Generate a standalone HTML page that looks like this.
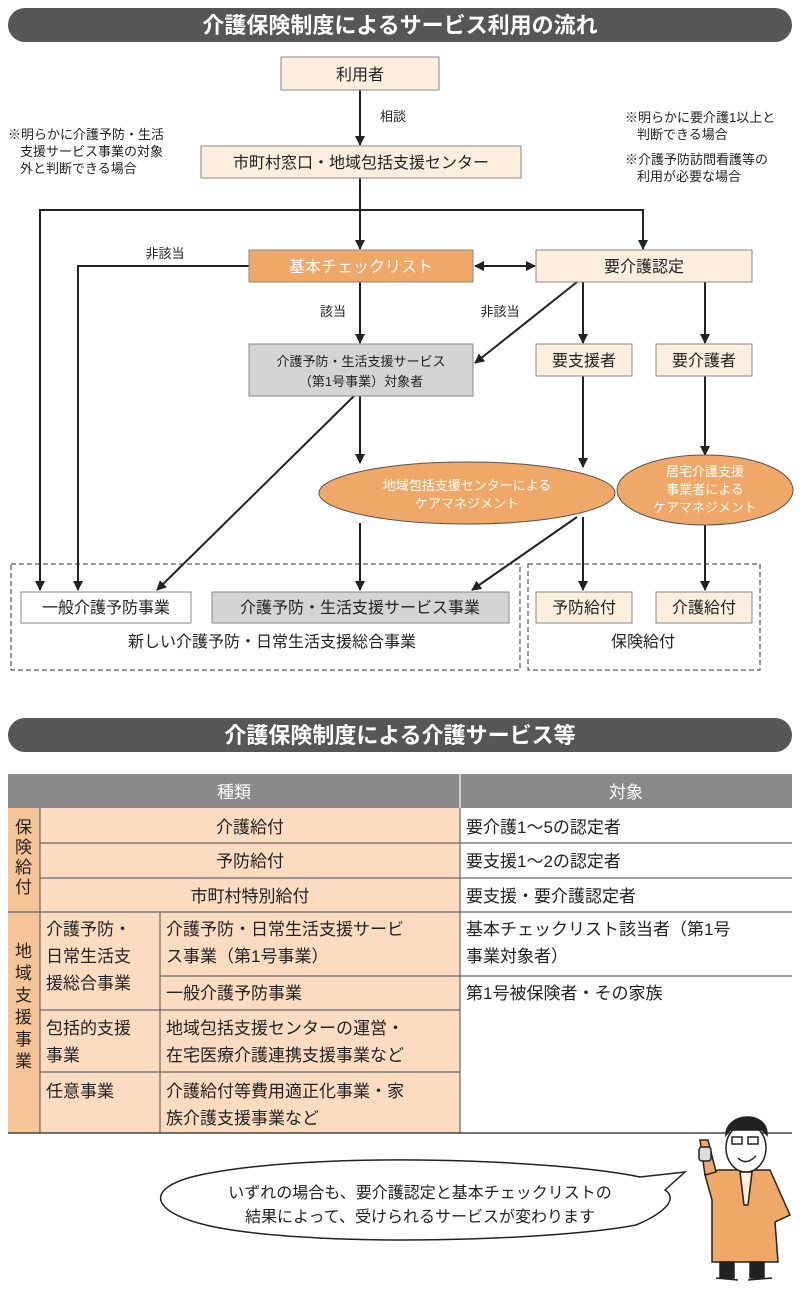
<!DOCTYPE html>
<html><head><meta charset="utf-8"><style>
html,body{margin:0;padding:0;background:#fff}
svg{display:block}
text{font-family:"Liberation Sans","Noto Sans CJK JP",sans-serif;fill:#222}
</style></head><body>
<svg width="800" height="1290" viewBox="0 0 800 1290" xmlns="http://www.w3.org/2000/svg">
<defs>
<marker id="a" markerWidth="10" markerHeight="10" refX="9" refY="5" orient="auto" markerUnits="userSpaceOnUse">
<path d="M0,0 L10,5 L0,10 z" fill="#222"/></marker>
<marker id="b" markerWidth="10" markerHeight="10" refX="1" refY="5" orient="auto" markerUnits="userSpaceOnUse">
<path d="M10,0 L0,5 L10,10 z" fill="#222"/></marker>
</defs>
<!-- title 1 -->
<rect x="8" y="8" width="784" height="34" rx="17" fill="#565656"/>
<text x="400" y="33" font-size="22" font-weight="bold" text-anchor="middle" style="fill:#fff">介護保険制度によるサービス利用の流れ</text>

<g stroke="#222" stroke-width="2" fill="none">
<line x1="360" y1="90" x2="360" y2="145" marker-end="url(#a)"/>
<line x1="360" y1="178" x2="360" y2="249" marker-end="url(#a)"/>
<polyline points="40,590 40,210 643,210 643,249" marker-end="url(#a)"/>
<line x1="40" y1="210" x2="40" y2="590" marker-end="url(#a)"/>
<polyline points="249,266 78,266 78,590" marker-end="url(#a)"/>
<line x1="475" y1="266" x2="535" y2="266" marker-start="url(#b)" marker-end="url(#a)"/>
<line x1="360" y1="282" x2="360" y2="343" marker-end="url(#a)"/>
<line x1="577" y1="282" x2="475" y2="363" marker-end="url(#a)"/>
<line x1="583" y1="282" x2="583" y2="343" marker-end="url(#a)"/>
<line x1="705" y1="282" x2="705" y2="343" marker-end="url(#a)"/>
<line x1="354" y1="396" x2="157" y2="590" marker-end="url(#a)"/>
<line x1="360" y1="396" x2="360" y2="463" marker-end="url(#a)"/>
<line x1="583" y1="376" x2="583" y2="467" marker-end="url(#a)"/>
<line x1="705" y1="376" x2="705" y2="455" marker-end="url(#a)"/>
<line x1="360" y1="523" x2="360" y2="590" marker-end="url(#a)"/>
<line x1="577" y1="517" x2="472" y2="590" marker-end="url(#a)"/>
<line x1="583" y1="517" x2="583" y2="590" marker-end="url(#a)"/>
<line x1="705" y1="525" x2="705" y2="590" marker-end="url(#a)"/>
</g>

<g stroke="#888" stroke-width="1">
<rect x="281" y="57" width="158" height="33" fill="#fdeedd"/>
<rect x="201" y="146" width="320" height="32" fill="#fdeedd"/>
<rect x="249" y="250" width="224" height="32" fill="#f0a868"/>
<rect x="536" y="250" width="216" height="32" fill="#fdeedd"/>
<rect x="249" y="344" width="224" height="52" fill="#d4d4d4"/>
<rect x="536" y="344" width="96" height="32" fill="#fdeedd"/>
<rect x="656" y="344" width="96" height="32" fill="#fdeedd"/>
<rect x="21" y="592" width="170" height="31" fill="#fff"/>
<rect x="212" y="592" width="297" height="31" fill="#d4d4d4"/>
<rect x="536" y="592" width="96" height="31" fill="#fdeedd"/>
<rect x="656" y="592" width="96" height="31" fill="#fdeedd"/>
</g>
<ellipse cx="467" cy="493" rx="148" ry="31" fill="#f0a868" stroke="#555"/>
<ellipse cx="705" cy="490" rx="88" ry="35" fill="#f0a868" stroke="#555"/>
<g fill="none" stroke="#333" stroke-dasharray="5,3">
<rect x="11" y="564" width="509" height="106"/>
<rect x="528" y="564" width="232" height="106"/>
</g>

<g font-size="16" text-anchor="middle">
<text x="360" y="80">利用者</text>
<text x="361" y="168">市町村窓口・地域包括支援センター</text>
<text x="361" y="272" style="fill:#fff">基本チェックリスト</text>
<text x="644" y="272">要介護認定</text>
<text x="584" y="366">要支援者</text>
<text x="704" y="366">要介護者</text>
<text x="106" y="613">一般介護予防事業</text>
<text x="360" y="613">介護予防・生活支援サービス事業</text>
<text x="584" y="613">予防給付</text>
<text x="704" y="613">介護給付</text>
<text x="272" y="647">新しい介護予防・日常生活支援総合事業</text>
<text x="643" y="647">保険給付</text>
</g>
<g font-size="13" text-anchor="middle">
<text x="361" y="366">介護予防・生活支援サービス</text>
<text x="361" y="386">（第1号事業）対象者</text>
<text x="467" y="490" style="fill:#fff">地域包括支援センターによる</text>
<text x="467" y="508" style="fill:#fff">ケアマネジメント</text>
<text x="705" y="476" style="fill:#fff">居宅介護支援</text>
<text x="705" y="494" style="fill:#fff">事業者による</text>
<text x="705" y="512" style="fill:#fff">ケアマネジメント</text>
<text x="393" y="121">相談</text>
<text x="165" y="258">非該当</text>
<text x="333" y="316">該当</text>
<text x="500" y="316">非該当</text>
</g>
<g font-size="13">
<text x="8" y="139">※明らかに介護予防・生活</text>
<text x="20" y="156">支援サービス事業の対象</text>
<text x="20" y="173">外と判断できる場合</text>
<text x="625" y="122">※明らかに要介護1以上と</text>
<text x="637" y="139">判断できる場合</text>
<text x="625" y="164">※介護予防訪問看護等の</text>
<text x="637" y="181">利用が必要な場合</text>
</g>

<!-- title 2 -->
<rect x="8" y="718" width="784" height="34" rx="17" fill="#565656"/>
<text x="400" y="743" font-size="22" font-weight="bold" text-anchor="middle" style="fill:#fff">介護保険制度による介護サービス等</text>

<!-- table -->
<rect x="8" y="774" width="784" height="34" fill="#8a8a8a"/>
<rect x="8" y="808" width="452" height="325" fill="#fbdcc0"/>
<rect x="8" y="808" width="32" height="325" fill="#f5c497"/>
<g stroke="#666" stroke-width="1.2" fill="none">
<line x1="460" y1="774" x2="460" y2="1133" stroke="#fff"/>
<line x1="460" y1="808" x2="460" y2="1133"/>
<line x1="40" y1="808" x2="40" y2="1133"/>
<line x1="160" y1="912" x2="160" y2="1133"/>
<line x1="40" y1="843" x2="792" y2="843"/>
<line x1="40" y1="878" x2="792" y2="878"/>
<line x1="8" y1="912" x2="792" y2="912"/>
<line x1="160" y1="976" x2="792" y2="976"/>
<line x1="40" y1="1010" x2="460" y2="1010"/>
<line x1="40" y1="1072" x2="460" y2="1072"/>
<line x1="8" y1="1133" x2="792" y2="1133" stroke="#222"/>
</g>
<g font-size="17">
<text x="234" y="798" text-anchor="middle" style="fill:#fff">種類</text>
<text x="626" y="798" text-anchor="middle" style="fill:#fff">対象</text>
<text x="250" y="833" text-anchor="middle">介護給付</text>
<text x="250" y="867" text-anchor="middle">予防給付</text>
<text x="250" y="902" text-anchor="middle">市町村特別給付</text>
<text x="466" y="833">要介護1～5の認定者</text>
<text x="466" y="867">要支援1～2の認定者</text>
<text x="466" y="902">要支援・要介護認定者</text>
<text x="15" y="833">保</text><text x="15" y="853">険</text><text x="15" y="873">給</text><text x="15" y="893">付</text>
<text x="15" y="957">地</text><text x="15" y="979">域</text><text x="15" y="1001">支</text><text x="15" y="1023">援</text><text x="15" y="1045">事</text><text x="15" y="1067">業</text>
<text x="46" y="935">介護予防・</text>
<text x="46" y="962">日常生活支</text>
<text x="46" y="989">援総合事業</text>
<text x="166" y="935">介護予防・日常生活支援サービ</text>
<text x="166" y="962">ス事業（第1号事業）</text>
<text x="166" y="999">一般介護予防事業</text>
<text x="46" y="1034">包括的支援</text>
<text x="46" y="1061">事業</text>
<text x="166" y="1034">地域包括支援センターの運営・</text>
<text x="166" y="1061">在宅医療介護連携支援事業など</text>
<text x="46" y="1097">任意事業</text>
<text x="166" y="1097">介護給付等費用適正化事業・家</text>
<text x="166" y="1124">族介護支援事業など</text>
<text x="466" y="935">基本チェックリスト該当者（第1号</text>
<text x="466" y="962">事業対象者）</text>
<text x="466" y="999">第1号被保険者・その家族</text>
</g>

<!-- speech bubble -->
<path d="M640,1177 C560,1160 320,1150 200,1175 C140,1188 150,1215 220,1228 C330,1248 560,1240 636,1225 C660,1215 680,1200 665,1190 L685,1172 Z" fill="#fff" stroke="#222" stroke-width="1.5"/>
<g font-size="16" text-anchor="middle">
<text x="420" y="1198">いずれの場合も、要介護認定と基本チェックリストの</text>
<text x="420" y="1222">結果によって、受けられるサービスが変わります</text>
</g>

<!-- character -->
<g stroke="#222" stroke-width="1.5">
<polygon points="718,1170 770,1170 790,1215 775,1222 778,1262 712,1262 712,1200 705,1175" fill="#f0a868"/>
<rect x="720" y="1262" width="14" height="16" fill="#222"/>
<rect x="750" y="1262" width="14" height="16" fill="#222"/>
<line x1="716" y1="1278" x2="738" y2="1280"/>
<line x1="748" y1="1280" x2="772" y2="1278"/>
<polygon points="705,1175 700,1140 708,1140 716,1172" fill="#f0a868"/>
<rect x="699" y="1147" width="12" height="14" rx="3" fill="#ddd"/>
<ellipse cx="746" cy="1148" rx="20" ry="24" fill="#fff"/>
<path d="M726,1135 C726,1112 768,1110 767,1135 L762,1130 L730,1130 Z" fill="#222"/>
<rect x="732" y="1137" width="10" height="7" fill="none"/>
<rect x="748" y="1137" width="10" height="7" fill="none"/>
<path d="M738,1158 Q746,1166 756,1156" fill="none"/>
<polygon points="740,1172 752,1172 748,1205 744,1205" fill="#fdeedd"/>
</g>
</svg>
</body></html>
